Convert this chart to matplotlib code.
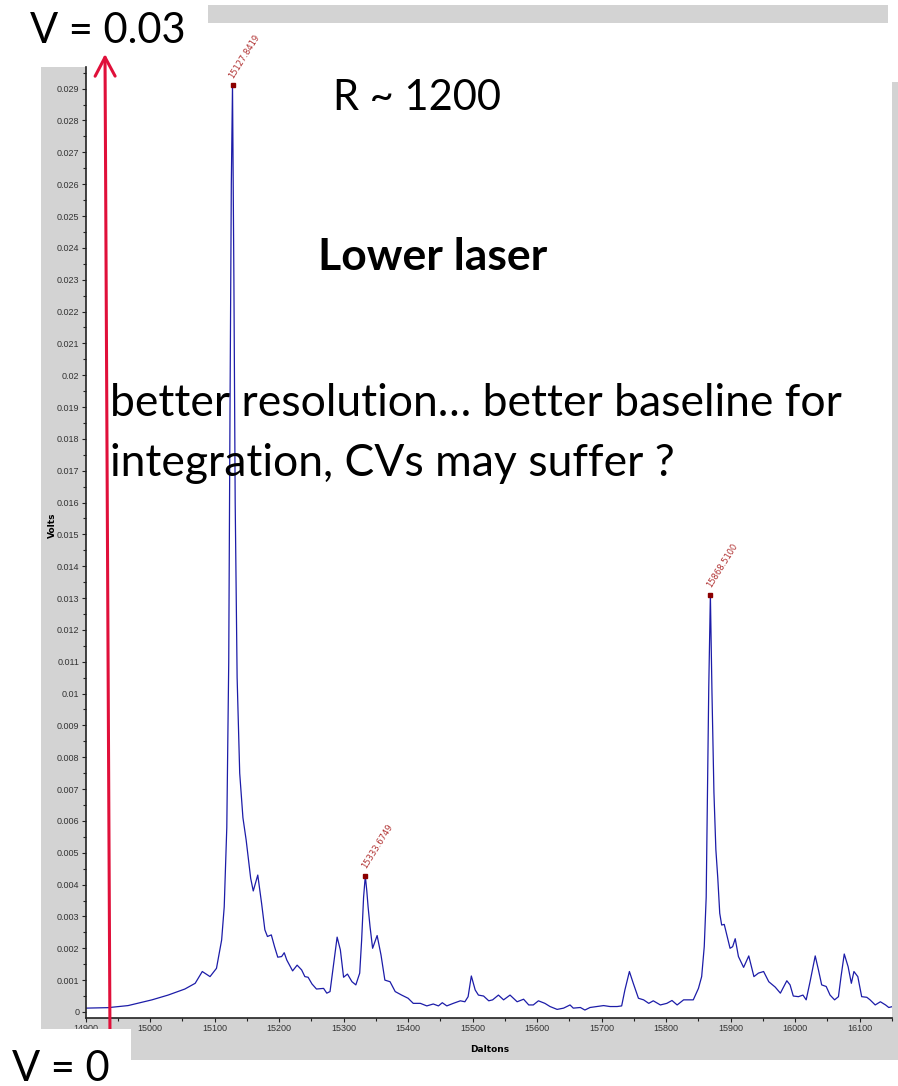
import numpy as np
import matplotlib.pyplot as plt
from matplotlib.patches import Rectangle, FancyArrowPatch
from matplotlib.ticker import MultipleLocator, FuncFormatter

daltons = [14900, 14935, 14966, 15003, 15028, 15054, 15070, 15081, 15093, 15103,
           15111, 15115, 15119, 15122, 15124, 15126, 15127.84, 15130, 15132, 15135,
           15139, 15144, 15149, 15153, 15156, 15160, 15167, 15173, 15178, 15182,
           15188, 15193, 15198, 15204, 15208, 15212, 15221, 15228, 15235, 15240,
           15245, 15251, 15258, 15269, 15274, 15279, 15284, 15290, 15295, 15300,
           15306, 15313, 15319, 15325, 15328, 15331, 15333.67, 15336, 15338, 15341,
           15345, 15352, 15358, 15364, 15372, 15380, 15390, 15400, 15408, 15419,
           15429, 15439, 15447, 15453, 15460, 15470, 15481, 15488, 15493, 15498,
           15504, 15509, 15517, 15525, 15531, 15540, 15548, 15558, 15569, 15579,
           15587, 15594, 15602, 15612, 15620, 15631, 15641, 15651, 15656, 15667,
           15674, 15682, 15693, 15703, 15713, 15724, 15731, 15736, 15743, 15749,
           15757, 15765, 15773, 15780, 15791, 15801, 15809, 15817, 15827, 15842,
           15850, 15855, 15859, 15862, 15864, 15866, 15868.51, 15871, 15874, 15877,
           15880, 15883, 15886, 15890, 15894, 15899, 15903, 15907, 15912, 15920,
           15928, 15936, 15943, 15951, 15959, 15969, 15977, 15987, 15992, 15997,
           16005, 16012, 16017, 16023, 16031, 16036, 16041, 16048, 16054, 16061,
           16067, 16071, 16076, 16082, 16087, 16091, 16097, 16103, 16111, 16116,
           16124, 16132, 16140, 16145, 16151]
volts = [0.00012, 0.000135, 0.0002, 0.00038, 0.00053, 0.00072, 0.0009, 0.00127, 0.00111, 0.00137,
         0.00226, 0.0033, 0.0058, 0.011, 0.019, 0.026, 0.0291, 0.023, 0.016, 0.0105,
         0.0075, 0.0061, 0.0054, 0.0047, 0.0042, 0.0038, 0.0043, 0.0034, 0.00258, 0.00237,
         0.00242, 0.00205, 0.00172, 0.00174, 0.00186, 0.00163, 0.00129, 0.00147, 0.00132, 0.00111,
         0.00109, 0.00088, 0.00072, 0.00074, 0.00059, 0.00064, 0.00142, 0.00235, 0.00195, 0.00109,
         0.00119, 0.00095, 0.00085, 0.00122, 0.00226, 0.0036, 0.00427, 0.0038, 0.0033, 0.00268,
         0.0020, 0.0024, 0.00179, 0.0010, 0.00095, 0.00064, 0.00053, 0.00043, 0.00027, 0.00027,
         0.00019, 0.00025, 0.00019, 0.00029, 0.00019, 0.00027, 0.00035, 0.00032, 0.00048, 0.00113,
         0.00069, 0.00053, 0.0005, 0.00035, 0.00038, 0.00053, 0.00038, 0.00053, 0.00032, 0.0004,
         0.00022, 0.00022, 0.00035, 0.00027, 0.00017, 0.00008, 0.00012, 0.00022, 0.00012, 0.00014,
         0.00006, 0.00014, 0.00017, 0.0002, 0.00017, 0.00017, 0.00019, 0.00069, 0.00127, 0.0009,
         0.00043, 0.00038, 0.00027, 0.00035, 0.00022, 0.00027, 0.00036, 0.00022, 0.00038, 0.00038,
         0.00074, 0.00111, 0.00205, 0.0036, 0.0068, 0.0102, 0.0131, 0.0100, 0.0069, 0.0051,
         0.0042, 0.0031, 0.00273, 0.00275, 0.00242, 0.0020, 0.00205, 0.0023, 0.00174, 0.0014,
         0.00176, 0.00111, 0.00122, 0.00127, 0.00095, 0.00078, 0.00059, 0.00098, 0.00085, 0.0005,
         0.00048, 0.00053, 0.00038, 0.00095, 0.00176, 0.00132, 0.00085, 0.0008, 0.00053, 0.00038,
         0.00048, 0.00111, 0.00182, 0.00142, 0.0009, 0.00127, 0.00111, 0.00048, 0.00046, 0.00038,
         0.00022, 0.00032, 0.00022, 0.00014, 0.00017]

# Picos marcados
picos_masa = [15127.84, 15333.67, 15868.51]
picos_volts = [0.0291, 0.00427, 0.0131]
picos_texto = ['15127.8419', '15333.6749', '15868.5100']

W, H = 898, 1086


def fx(x):
    return x / W


def fy(y):
    return 1 - y / H


fig = plt.figure(figsize=(W / 100, H / 100), dpi=100)
fig.patch.set_facecolor('white')

# Fondo gris del programa
gris = '#d3d3d3'
fig.add_artist(Rectangle((fx(41), fy(1060)), (892 - 41) / W, (1060 - 67) / H,
                         transform=fig.transFigure, facecolor=gris, edgecolor='none', zorder=-5))
fig.add_artist(Rectangle((fx(892), fy(1060)), (898 - 892) / W, (1060 - 82) / H,
                         transform=fig.transFigure, facecolor=gris, edgecolor='none', zorder=-5))
fig.add_artist(Rectangle((fx(208), fy(23)), (888 - 208) / W, (23 - 5) / H,
                         transform=fig.transFigure, facecolor=gris, edgecolor='none', zorder=-5))

ax = fig.add_axes([fx(85.5), fy(1018), (892 - 85.5) / W, (1018 - 67) / H])
ax.set_facecolor('white')
ax.plot(daltons, volts, color='#1c1ca8', lw=0.9)
ax.plot(picos_masa, picos_volts, 's', color='#8b0000', ms=3)
for m, v, t in zip(picos_masa, picos_volts, picos_texto):
    ax.annotate(t, (m, v), xytext=(2, 4), textcoords='offset points',
                rotation=58, rotation_mode='anchor', ha='left', va='bottom',
                fontsize=6, color='#b03030')

ax.set_xlim(14900, 16150)
ax.set_ylim(-0.00019, 0.02968)
ax.xaxis.set_major_locator(MultipleLocator(100))
ax.xaxis.set_minor_locator(MultipleLocator(50))
ax.yaxis.set_major_locator(MultipleLocator(0.001))
ax.yaxis.set_minor_locator(MultipleLocator(0.0005))
ax.yaxis.set_major_formatter(FuncFormatter(lambda v, p: '%g' % round(v, 3)))
ax.xaxis.set_major_formatter(FuncFormatter(lambda v, p: '%d' % v))
for s in ['top', 'right']:
    ax.spines[s].set_visible(False)
for s in ['left', 'bottom']:
    ax.spines[s].set_color('#222222')
    ax.spines[s].set_linewidth(1.2)
ax.tick_params(which='major', length=3, width=0.8, color='#222222', labelsize=6.5,
               labelcolor='#333333', pad=1.5)
ax.tick_params(which='minor', length=2, width=0.8, color='#222222')
for lab in ax.get_xticklabels() + ax.get_yticklabels():
    lab.set_family('Liberation Sans')

fig.text(fx(52), fy(525), 'Volts', rotation=90, ha='center', va='center',
         fontsize=6.5, fontweight='bold')
fig.text(fx(490), fy(1050), 'Daltons', ha='center', va='center',
         fontsize=6.5, fontweight='bold')

# Flecha roja de escala
fig.add_artist(FancyArrowPatch((fx(110), fy(1040)), (fx(105), fy(54)),
                               transform=fig.transFigure,
                               arrowstyle='->,head_length=0.68,head_width=0.36',
                               mutation_scale=20, color='#e0103a', lw=2.2,
                               shrinkA=0, shrinkB=0, zorder=4))

# Recuadro blanco inferior
fig.add_artist(Rectangle((fx(0), fy(1086)), 131 / W, (1086 - 1029) / H,
                         transform=fig.transFigure, facecolor='white', edgecolor='none', zorder=5))

fuente = 'Lato'
fig.text(fx(30), fy(43), 'V = 0.03', fontsize=30, family=fuente, va='baseline', zorder=6)
fig.text(fx(12), fy(1081), 'V = 0', fontsize=30, family=fuente, va='baseline', zorder=6)
fig.text(fx(333), fy(110), 'R ~ 1200', fontsize=30, family=fuente, va='baseline', zorder=6)
fig.text(fx(318), fy(270), 'Lower laser', fontsize=32, family=fuente, fontweight='bold',
         va='baseline', zorder=6)
fig.text(fx(110), fy(416), 'better resolution\u2026 better baseline for', fontsize=32,
         family=fuente, va='baseline', zorder=6)
fig.text(fx(110), fy(476), 'integration, CVs may suffer ?', fontsize=32,
         family=fuente, va='baseline', zorder=6)

fig.savefig('out.png', dpi=100)
